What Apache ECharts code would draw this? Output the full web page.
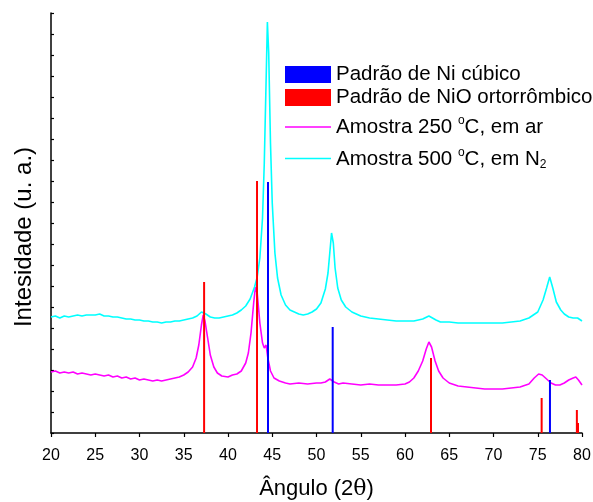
<!DOCTYPE html>
<html>
<head>
<meta charset="utf-8">
<script src="https://cdn.jsdelivr.net/npm/echarts@6/dist/echarts.min.js"></script>
<style>html,body{margin:0;padding:0;background:#fff}#c{width:593px;height:502px}</style>
</head>
<body>
<div id="c"></div>
<script>
// x tick labels (degrees 2θ)
const xTicks = [20, 25, 30, 35, 40, 45, 50, 55, 60, 65, 70, 75, 80];

// Reference pattern lines [angle, relative height]
const niCubic = [[44.52, 251], [51.83, 106], [76.38, 53]];
const nioOrtho = [[37.30, 151], [43.28, 252], [62.94, 75], [75.44, 35], [79.42, 23], [79.55, 10]];

// Sample 250 °C in air: angles and intensities
const s250x = [20,20.5,21,21.5,22,22.5,23,23.5,24,24.5,25,25.5,26,26.5,27,27.5,28,28.5,29,29.5,30,30.5,31,31.5,32,32.5,33,33.5,34,34.5,35,35.5,36,36.4,36.7,37.0,37.2,37.4,37.7,38.0,38.4,38.8,39.3,40,40.5,41,41.5,42,42.3,42.6,42.9,43.1,43.3,43.6,43.9,44.1,44.3,44.5,44.8,45.2,45.8,46.5,47,48,49,50,50.5,51,51.5,51.7,52,52.5,53,54,55,56,57,58,59,60,60.5,61,61.5,62,62.4,62.7,63,63.4,63.8,64.3,65,66,67,68,69,70,71,72,73,74,74.6,75.1,75.5,76,76.5,77,77.5,78,78.5,79,79.3,79.6,80];
const s250y = [61,62,60,61,60,61,59,60,59,58,59,58,57,58,56,57,55,56,54,55,53,54,53,52,53,52,53,54,55,56,58,61,66,75,88,108,118,112,95,78,66,60,57,56,58,59,62,70,80,100,130,146,140,110,90,85,88,75,62,55,52,50,49,50,49,50,50,51,54,56,51,49,50,49,48,49,48,48,48,49,51,55,62,72,84,91,86,72,62,55,50,47,46,45,44,44,44,45,46,49,55,59,58,54,50,48,48,50,53,55,56,53,48];

// Sample 500 °C in N2: angles and intensities
const s500x = [20,20.5,21,21.5,22,22.5,23,23.5,24,24.5,25,25.5,26,26.5,27,27.5,28,28.5,29,29.5,30,30.5,31,31.5,32,32.5,33,33.5,34,34.5,35,35.5,36,36.5,37,37.2,37.5,38,38.5,39,39.5,40,40.5,41,41.5,42,42.5,43,43.3,43.6,43.9,44.1,44.3,44.45,44.6,44.8,45.0,45.3,45.6,46,46.5,47,47.5,48,48.5,49,49.5,50,50.5,51,51.3,51.5,51.7,51.9,52.1,52.4,52.8,53.3,54,55,56,57,58,59,60,61,62,62.7,63.5,64,65,66,67,68,69,70,71,72,73,74,75,75.6,76.0,76.35,76.7,77.1,77.6,78,78.5,79,79.5,80];
const s500y = [116,117,115,117,116,117,118,117,118,118,118,119,117,117,116,116,115,114,114,113,113,112,112,111,111,110,111,111,112,112,113,114,115,117,121,122,119,116,115,115,116,117,118,120,123,127,134,146,156,175,215,270,350,411,380,290,230,180,155,138,128,123,121,119,118,119,121,124,130,144,160,180,200,190,165,145,133,126,121,117,115,114,113,112,112,112,114,117,113,111,111,110,110,110,110,110,110,111,112,115,121,133,145,156,145,131,123,119,116,115,115,112];

const names = ['Padrão de Ni cúbico', 'Padrão de NiO ortorrômbico', 'Amostra 250 °C, em ar', 'Amostra 500 °C, em N2'];

const zip = (a, b) => a.map((v, i) => [v, b[i]]);
const FONT = 'Liberation Sans, Arial, sans-serif';

const chart = echarts.init(document.getElementById('c'), null, {renderer: 'canvas'});
const lineIcon = 'path://M0,0 L46,0 L46,1.6 L0,1.6 Z';
chart.setOption({
  animation: false,
  backgroundColor: '#fff',
  grid: {left: 51, right: 11, top: 13, bottom: 69, outerBoundsMode: 'none', containLabel: false},
  legend: [{
    selectedMode: false,
    orient: 'vertical', left: 280, top: 59,
    itemWidth: 46, itemHeight: 17, itemGap: 2,
    textStyle: {fontSize: 20.5, color: '#000', fontFamily: FONT},
    data: [{name: names[0], icon: 'rect'}, {name: names[1], icon: 'rect'}]
  }, {
    selectedMode: false,
    orient: 'vertical', left: 280, top: 110,
    itemWidth: 46, itemHeight: 17, itemGap: 1.5,
    textStyle: {fontSize: 20.5, color: '#000', fontFamily: FONT,
      rich: {
        t: {fontSize: 20.5, lineHeight: 24, fontFamily: FONT, color: '#000', verticalAlign: 'top', padding: [2, 0, 0, 0]},
        sup: {fontSize: 12, lineHeight: 12, fontFamily: FONT, color: '#000', verticalAlign: 'top'},
        sub: {fontSize: 12, lineHeight: 12, fontFamily: FONT, color: '#000', verticalAlign: 'bottom', padding: [19, 0, 0, 0]}
      }},
    formatter: function (n) {
      if (n === names[2]) return '{t|Amostra 250 }{sup|o}{t|C, em ar}';
      if (n === names[3]) return '{t|Amostra 500 }{sup|o}{t|C, em N}{sub|2}';
      return n;
    },
    data: [{name: names[2], icon: lineIcon}, {name: names[3], icon: lineIcon}]
  }],
  xAxis: {
    type: 'value', min: 20, max: 80, interval: 5,
    name: '{t|Ângulo (2}{g|θ}{t|)}', nameLocation: 'middle', nameGap: 45,
    nameTextStyle: {rich: {
      t: {fontSize: 22, fontFamily: FONT, color: '#000'},
      g: {fontSize: 22, fontFamily: 'DejaVu Serif, serif', color: '#000'}
    }},
    axisLine: {lineStyle: {color: '#000', width: 1.5}},
    axisTick: {inside: false, length: 4, lineStyle: {color: '#000', width: 1.2}},
    axisLabel: {fontSize: 16, color: '#000', fontFamily: FONT, margin: 15,
      formatter: v => xTicks.indexOf(v) >= 0 ? String(v) : ''},
    splitLine: {show: false}
  },
  yAxis: {
    type: 'value', min: 0, max: 420, interval: 21,
    name: 'Intesidade (u. a.)', nameLocation: 'middle', nameGap: 15,
    nameTextStyle: {fontSize: 24, fontFamily: FONT, color: '#000', padding: [0, 28, 0, 0]},
    axisLine: {show: true, lineStyle: {color: '#000', width: 1.5}},
    axisTick: {show: true, inside: true, length: 3, lineStyle: {color: '#000', width: 1.2}},
    axisLabel: {show: false},
    splitLine: {show: false}
  },
  series: [
    {name: names[0], type: 'bar', data: niCubic, barWidth: 2, itemStyle: {color: '#0000ff'}, z: 3},
    {name: names[1], type: 'bar', data: nioOrtho, barWidth: 2, barGap: '-100%', itemStyle: {color: '#ff0000'}, z: 3},
    {name: names[2], type: 'line', data: zip(s250x, s250y), showSymbol: false, symbol: 'none',
      lineStyle: {color: '#ff00ff', width: 1.6}, itemStyle: {color: '#ff00ff'}, z: 2},
    {name: names[3], type: 'line', data: zip(s500x, s500y), showSymbol: false, symbol: 'none',
      lineStyle: {color: '#00ffff', width: 1.6}, itemStyle: {color: '#00ffff'}, z: 2}
  ]
});
</script>
</body>
</html>
